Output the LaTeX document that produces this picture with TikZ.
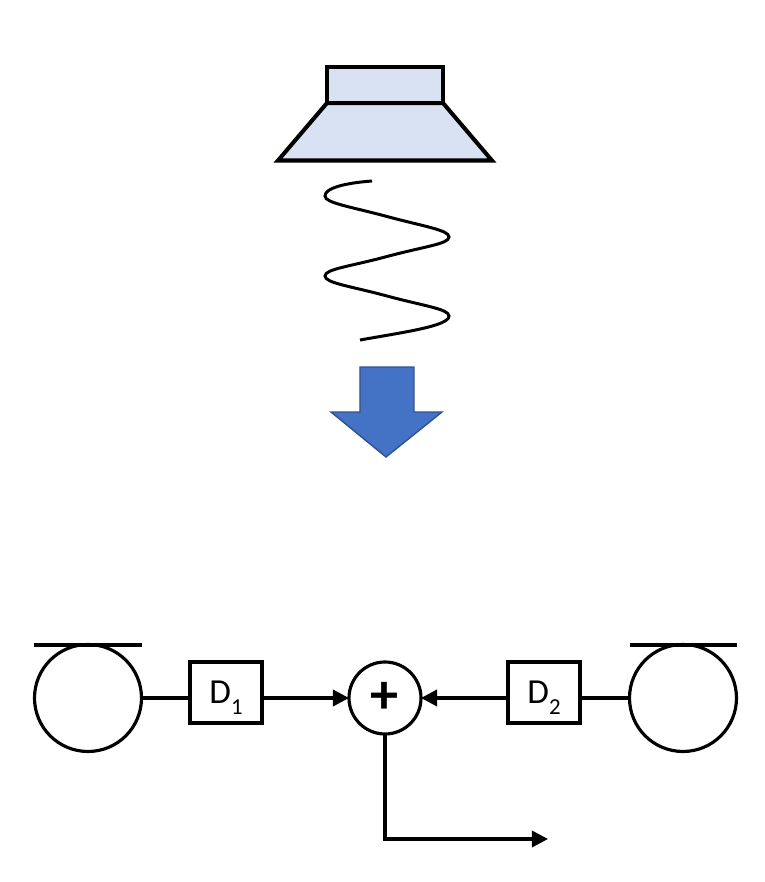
\documentclass[tikz,border=0pt]{standalone}
\usepackage{fontspec}
\setmainfont{Carlito}
\usetikzlibrary{arrows.meta}
\tikzstyle{body}=[line width=1.15pt,draw=black,fill=speaker,line join=miter]
\tikzstyle{wheel}=[shape=circle,minimum size=10.7mm,inner sep=0,outer sep=0,line width=.9pt,draw]
\tikzstyle{summer}=[shape=circle,minimum size=7.2mm,inner sep=0,outer sep=0,line width=.9pt,draw,font=\fontsize{16}{16}\selectfont\bfseries]
\tikzstyle{delay} = [rectangle, minimum width=.72cm, minimum height=.61cm, inner sep=0, outer sep=0, text centered, line width=.9pt, draw=black, font=\fontsize{10}{11}\selectfont]
\tikzstyle{link} = [line width=1pt]
\tikzstyle{flow} = [line width=1pt,-{Triangle[length=4.6pt,width=4.6pt]}]
\definecolor{speaker}{HTML}{D9E2F3}
\definecolor{bluearrow}{HTML}{4472C4}
\definecolor{blueedge}{HTML}{2F528F}
\newcommand{\dsub}[1]{\smash{\raisebox{-.65ex}{\fontsize{6.5}{7}\selectfont #1}}}
\begin{document}
\begin{tikzpicture}
\useasboundingbox (0,0) rectangle (7.65,8.82);

\draw[body](3.27,7.79)--(4.43,7.79)--(4.92,7.215)--(2.78,7.215)--cycle;
\draw[body](3.27,8.15) rectangle (4.43,7.79);
\draw[line width=.85pt](3.72,7.01) .. controls (3.45,6.99) and (3.25,6.94) .. (3.25,6.86)
	.. controls (3.25,6.79) and (3.50,6.755) .. (3.87,6.655)
	.. controls (4.24,6.555) and (4.49,6.52) .. (4.49,6.45)
	.. controls (4.49,6.38) and (4.24,6.355) .. (3.87,6.255)
	.. controls (3.50,6.155) and (3.25,6.13) .. (3.25,6.06)
	.. controls (3.25,5.99) and (3.50,5.96) .. (3.87,5.86)
	.. controls (4.24,5.76) and (4.49,5.73) .. (4.49,5.66)
	.. controls (4.49,5.56) and (4.05,5.50) .. (3.60,5.42);
\draw[blueedge,fill=bluearrow,line width=.4pt](3.60,5.15)--(3.60,4.70)--(3.31,4.70)--(3.86,4.25)--(4.42,4.70)--(4.14,4.70)--(4.14,5.15)--cycle;

\draw (0.88,1.84)node[wheel](wheel1){};
\draw (6.83,1.84)node[wheel](wheel2){};
\draw (2.26,1.895)node[delay](d1){D\dsub{1}};
\draw (5.44,1.895)node[delay](d2){D\dsub{2}};
\draw (3.85,1.84)node[summer](sum){+};
\coordinate (out) at (5.48,0.43);

\draw[link] (0.34,2.37)--(1.42,2.37);
\draw[link] (6.30,2.37)--(7.37,2.37);
\draw[link] (wheel1)--(wheel1 -| d1.west);
\draw[link] (wheel2)--(wheel2 -| d2.east);
\draw[flow] (wheel1 -| d1.east)--(sum);
\draw[flow] (wheel2 -| d2.west)--(sum);
\draw[flow] (sum.south)|-(out);
\end{tikzpicture}
\end{document}
